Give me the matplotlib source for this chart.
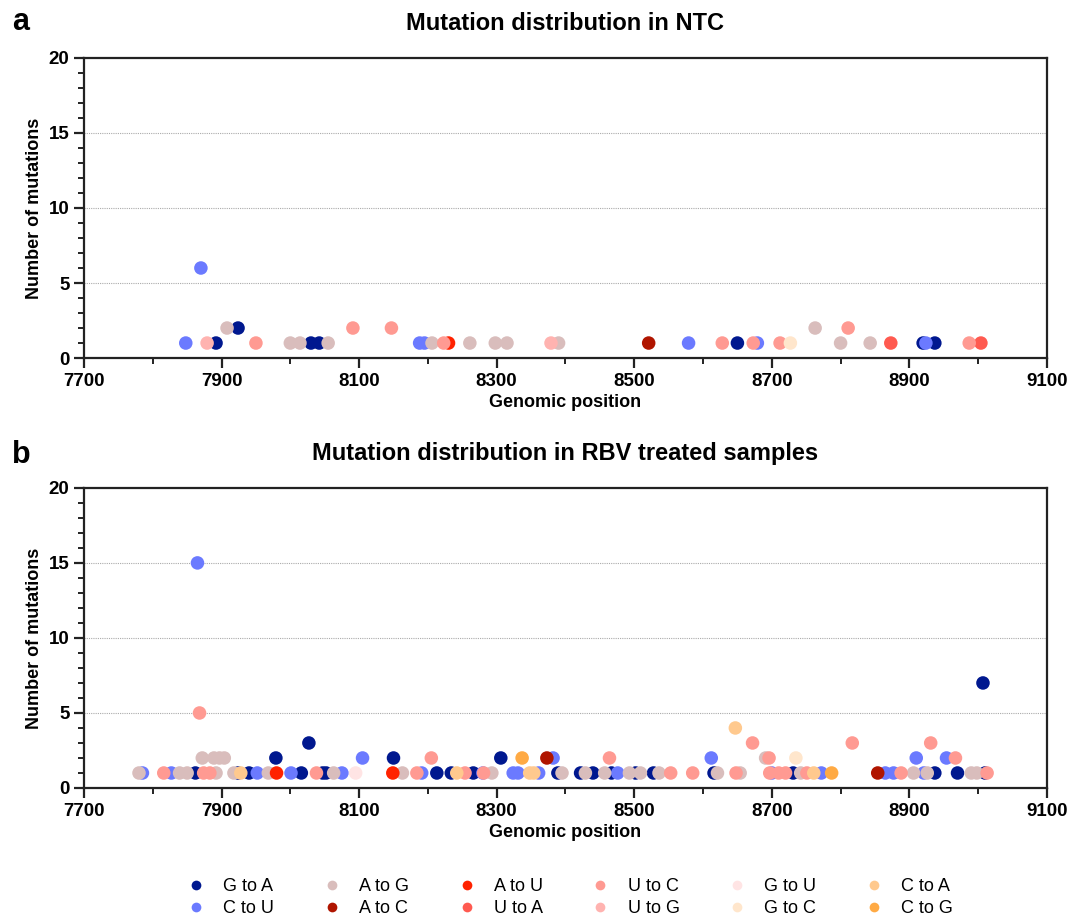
import matplotlib.pyplot as plt
from matplotlib.ticker import MultipleLocator, FixedLocator
from matplotlib.lines import Line2D

plt.rcParams['font.family'] = ['Liberation Sans', 'DejaVu Sans']

# mutation types, in legend order (column-wise)
mut_types = ["G to A", "C to U", "A to G", "A to C", "A to U", "U to A",
             "U to C", "U to G", "G to U", "G to C", "C to A", "C to G"]
mut_colors = ["#00188f", "#6b7aff", "#d9bdbc", "#b01500", "#ff2200", "#ff5a50",
              "#ff9a92", "#ffb3b0", "#ffe4e4", "#ffe6cc", "#ffc98e", "#ffaa44"]

# panel a: NTC, (position, count)
ntc_g_to_a = [(7892, 1), (7924, 2), (8030, 1), (8042, 1), (8650, 1), (8920, 1), (8937, 1)]
ntc_c_to_u = [(7848, 1), (7870, 6), (8188, 1), (8195, 1), (8579, 1), (8679, 1), (8924, 1)]
ntc_a_to_g = [(7908, 2), (8000, 1), (8014, 1), (8055, 1), (8206, 1), (8261, 1), (8298, 1),
              (8315, 1), (8390, 1), (8763, 2), (8800, 1), (8843, 1)]
ntc_a_to_c = [(8521, 1)]
ntc_a_to_u = [(8230, 1)]
ntc_u_to_a = [(8873, 1), (9004, 1)]
ntc_u_to_c = [(7950, 1), (8091, 2), (8147, 2), (8223, 1), (8628, 1), (8673, 1), (8712, 1),
              (8811, 2), (8987, 1)]
ntc_u_to_g = [(7879, 1), (8379, 1)]
ntc_g_to_u = []
ntc_g_to_c = [(8727, 1)]
ntc_c_to_a = []
ntc_c_to_g = []

# panel b: RBV treated
rbv_g_to_a = [(7862, 1), (7924, 1), (7940, 1), (7979, 2), (8016, 1), (8027, 3), (8047, 1),
              (8052, 1), (8150, 2), (8213, 1), (8234, 1), (8266, 1), (8306, 2), (8389, 1),
              (8422, 1), (8440, 1), (8467, 1), (8502, 1), (8528, 1), (8616, 1), (8731, 1),
              (8937, 1), (8970, 1), (9007, 7), (9010, 1)]
rbv_c_to_u = [(7785, 1), (7827, 1), (7865, 15), (7952, 1), (8001, 1), (8075, 1), (8105, 2),
              (8191, 1), (8280, 1), (8324, 1), (8331, 1), (8361, 1), (8382, 2), (8476, 1),
              (8612, 2), (8700, 1), (8772, 1), (8865, 1), (8877, 1), (8910, 2), (8921, 1),
              (8954, 2)]
rbv_a_to_g = [(7780, 1), (7839, 1), (7850, 1), (7872, 2), (7889, 2), (7897, 2), (7904, 2),
              (7892, 1), (7918, 1), (7968, 1), (8063, 1), (8163, 1), (8293, 1), (8395, 1),
              (8429, 1), (8457, 1), (8493, 1), (8509, 1), (8536, 1), (8621, 1), (8654, 1),
              (8691, 2), (8742, 1), (8906, 1), (8926, 1), (8990, 1), (8998, 1)]
rbv_a_to_c = [(8373, 2), (8854, 1)]
rbv_a_to_u = [(7980, 1), (8149, 1)]
rbv_u_to_a = []
rbv_u_to_c = [(7816, 1), (7868, 5), (7874, 1), (7883, 1), (8038, 1), (8184, 1), (8205, 2),
              (8254, 1), (8281, 1), (8464, 2), (8553, 1), (8585, 1), (8648, 1), (8672, 3),
              (8696, 2), (8697, 1), (8710, 1), (8720, 1), (8751, 1), (8817, 3), (8888, 1),
              (8931, 3), (8967, 2), (9013, 1)]
rbv_u_to_g = []
rbv_g_to_u = [(8095, 1)]
rbv_g_to_c = [(8735, 2)]
rbv_c_to_a = [(7928, 1), (8242, 1), (8348, 1), (8354, 1), (8647, 4), (8761, 1)]
rbv_c_to_g = [(8337, 2), (8787, 1)]

ntc_data = [ntc_g_to_a, ntc_c_to_u, ntc_a_to_g, ntc_a_to_c, ntc_a_to_u, ntc_u_to_a,
            ntc_u_to_c, ntc_u_to_g, ntc_g_to_u, ntc_g_to_c, ntc_c_to_a, ntc_c_to_g]
rbv_data = [rbv_g_to_a, rbv_c_to_u, rbv_a_to_g, rbv_a_to_c, rbv_a_to_u, rbv_u_to_a,
            rbv_u_to_c, rbv_u_to_g, rbv_g_to_u, rbv_g_to_c, rbv_c_to_a, rbv_c_to_g]

x_ticks = [7700, 7900, 8100, 8300, 8500, 8700, 8900, 9100]


def draw_panel(ax, data, title):
    for pts, color in zip(data, mut_colors):
        if not pts:
            continue
        xs = [p[0] for p in pts]
        ys = [p[1] for p in pts]
        ax.scatter(xs, ys, s=95, color=color, edgecolors='none', zorder=3, clip_on=False)
    ax.set_xlim(7700, 9100)
    ax.set_ylim(0, 20)
    ax.xaxis.set_major_locator(FixedLocator(x_ticks))
    ax.xaxis.set_minor_locator(MultipleLocator(100))
    ax.yaxis.set_major_locator(MultipleLocator(5))
    ax.yaxis.set_minor_locator(MultipleLocator(1))
    for yv in (5, 10, 15):
        ax.axhline(yv, color='#aaaaaa', lw=0.8, ls=(0, (1, 1)), zorder=1)
    for sp in ax.spines.values():
        sp.set_linewidth(1.6)
        sp.set_color('#222222')
    ax.tick_params(which='major', length=7, width=1.6, labelsize=13.5, color='#222222')
    ax.tick_params(which='minor', length=4, width=1.4, color='#222222')
    for lbl in ax.get_xticklabels() + ax.get_yticklabels():
        lbl.set_fontweight('bold')
    ax.set_xlabel("Genomic position", fontsize=13, fontweight='bold', labelpad=3)
    ax.set_ylabel("Number of mutations", fontsize=13, fontweight='bold', labelpad=4)
    ax.set_title(title, fontsize=17, fontweight='bold', pad=20)


fig = plt.figure(figsize=(10.67, 9.15), dpi=100)
ax_a = fig.add_axes([0.0787, 0.6087, 0.9025, 0.328])
ax_b = fig.add_axes([0.0787, 0.1388, 0.9025, 0.328])

draw_panel(ax_a, ntc_data, "Mutation distribution in NTC")
draw_panel(ax_b, rbv_data, "Mutation distribution in RBV treated samples")

fig.text(0.011, 0.976, "a", fontsize=22, fontweight='bold', va='center')
fig.text(0.011, 0.503, "b", fontsize=22, fontweight='bold', va='center')

handles = [Line2D([], [], ls='none', marker='o', markersize=7, markerfacecolor=c,
                  markeredgecolor='none') for c in mut_colors]
fig.legend(handles, mut_types, loc='center', bbox_to_anchor=(0.53, 0.019), ncol=6,
           frameon=False, fontsize=13, handletextpad=0.5, columnspacing=2.2,
           labelspacing=0.25)

fig.savefig("out.png", dpi=100)
